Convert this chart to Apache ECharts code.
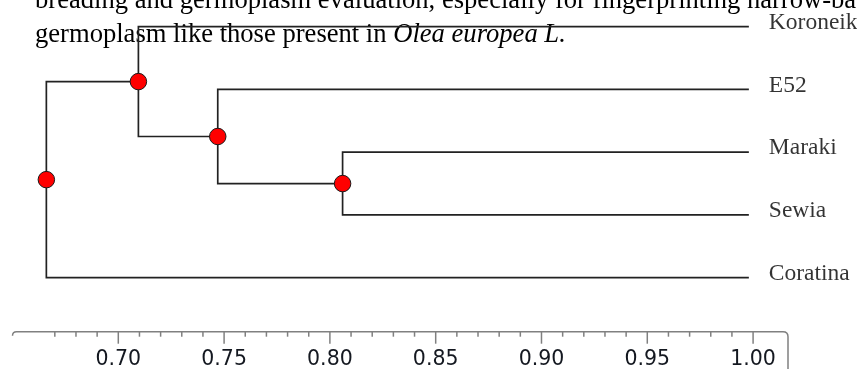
<!DOCTYPE html>
<html><head><meta charset="utf-8">
<script src="https://cdn.jsdelivr.net/npm/echarts@6/dist/echarts.min.js"></script>
<style>html,body{margin:0;padding:0;background:#fff;overflow:hidden}#c{width:857px;height:369px}</style>
</head><body><div id="c"></div><script>
// ---- data ----
const leafNames = ['Koroneiki', 'E52', 'Maraki', 'Sewia', 'Coratina'];
const leafSimilarity = 0.998;
// node ids: 0..4 = leaves, 5.. = merges in order
const mergeChildA = [2, 1, 0, 7];
const mergeChildB = [3, 5, 6, 4];
const mergeSimilarity = [0.806, 0.747, 0.7095, 0.666];
const majorTicks = [0.70, 0.75, 0.80, 0.85, 0.90, 0.95, 1.00];
const minorTicks = [0.67, 0.68, 0.69, 0.71, 0.72, 0.73, 0.74, 0.76, 0.77, 0.78, 0.79,
  0.81, 0.82, 0.83, 0.84, 0.86, 0.87, 0.88, 0.89, 0.91, 0.92, 0.93, 0.94,
  0.96, 0.97, 0.98, 0.99];
const textLine1 = 'breading and germoplasm evaluation, especially for fingerprinting narrow-based';
const textLine2 = 'germoplasm like those present in ';
const textLine2Italic = 'Olea europea L.';

// ---- build tree geometry (in data units) ----
const X_MIN = 0.65, X_MAX = 1.0165, Y_MIN = -0.4, Y_MAX = 4.861;
const nodeX = leafNames.map(() => leafSimilarity);
const nodeY = leafNames.map((_, i) => i);
mergeSimilarity.forEach((s, k) => {
  const a = mergeChildA[k], b = mergeChildB[k];
  nodeX.push(s);
  nodeY.push((nodeY[a] + nodeY[b]) / 2);
});
const bracketData = mergeSimilarity.map((s, k) => {
  const a = mergeChildA[k], b = mergeChildB[k];
  return { coords: [[nodeX[a], nodeY[a]], [s, nodeY[a]], [s, nodeY[b]], [nodeX[b], nodeY[b]]] };
});
const nodeData = mergeSimilarity.map((s, k) => [s, nodeY[leafNames.length + k]]);
const leafData = leafNames.map((n, i) => ({ value: [nodeX[i], nodeY[i]], name: n }));

const chart = echarts.init(document.getElementById('c'), null, { renderer: 'canvas' });
chart.setOption({
  animation: false,
  backgroundColor: '#fff',
  grid: { left: 12.5, right: 69, top: 1.6, bottom: 37.3, outerBoundsMode: 'none' },
  xAxis: {
    type: 'value', min: X_MIN, max: X_MAX, interval: 0.05,
    axisLine: { show: false }, axisTick: { show: false }, splitLine: { show: false },
    axisLabel: {
      margin: 17, color: '#141820', fontFamily: 'DejaVu Sans', fontSize: 20.5,
      showMaxLabel: false,
      formatter: v => (v < 0.695 || v > 1.005) ? '' : v.toFixed(2)
    }
  },
  yAxis: { type: 'value', inverse: true, min: Y_MIN, max: Y_MAX, show: false },
  graphic: [
    { type: 'text', x: 35, y: 0.7, z: 0,
      style: { text: textLine1, font: '26.6px "Liberation Serif"', fill: '#000', verticalAlign: 'middle' } },
    { type: 'text', x: 35, y: 35.4, z: 0,
      style: {
        text: '{n|' + textLine2 + '}{i|' + textLine2Italic + '}',
        verticalAlign: 'middle',
        rich: {
          n: { fontFamily: 'Liberation Serif', fontSize: 26.6, color: '#000' },
          i: { fontFamily: 'Liberation Serif', fontSize: 26.6, fontStyle: 'italic', color: '#000' }
        }
      } }
  ],
  series: [
    {
      type: 'lines', coordinateSystem: 'cartesian2d', polyline: true, z: 2,
      lineStyle: { color: '#222', width: 1.7, opacity: 1 },
      data: bracketData
    },
    {
      type: 'scatter', z: 4, symbol: 'circle', symbolSize: 16.5,
      itemStyle: { color: '#ff0000', borderColor: '#1a1a1a', borderWidth: 1, opacity: 1 },
      data: nodeData
    },
    {
      type: 'scatter', z: 3, symbolSize: 0,
      label: {
        show: true, position: 'right', distance: 20, offset: [0, -4],
        formatter: p => p.name,
        fontFamily: 'Liberation Serif', fontSize: 23.5, color: '#000'
      },
      data: leafData
    },
    {
      type: 'custom', z: 5, silent: true,
      data: [[X_MIN, Y_MAX]],
      renderItem: (params, api) => {
        const cs = params.coordSys;
        const yA = cs.y + cs.height;
        const x0 = cs.x, x1 = cs.x + cs.width;
        const H = api.getHeight();
        const style = { stroke: '#808080', lineWidth: 1.5, fill: null };
        const children = [{
          type: 'path',
          shape: { pathData: `M${x0} ${yA + 4} Q${x0} ${yA} ${x0 + 4} ${yA} L${x1 - 5} ${yA} Q${x1} ${yA} ${x1} ${yA + 5} L${x1} ${H + 2}` },
          style
        }];
        majorTicks.forEach(v => {
          const px = api.coord([v, Y_MAX])[0];
          children.push({ type: 'line', shape: { x1: px, y1: yA, x2: px, y2: yA + 12 }, style });
        });
        minorTicks.forEach(v => {
          const px = api.coord([v, Y_MAX])[0];
          children.push({ type: 'line', shape: { x1: px, y1: yA, x2: px, y2: yA + 5 }, style });
        });
        return { type: 'group', children };
      }
    }
  ]
});
</script></body></html>
